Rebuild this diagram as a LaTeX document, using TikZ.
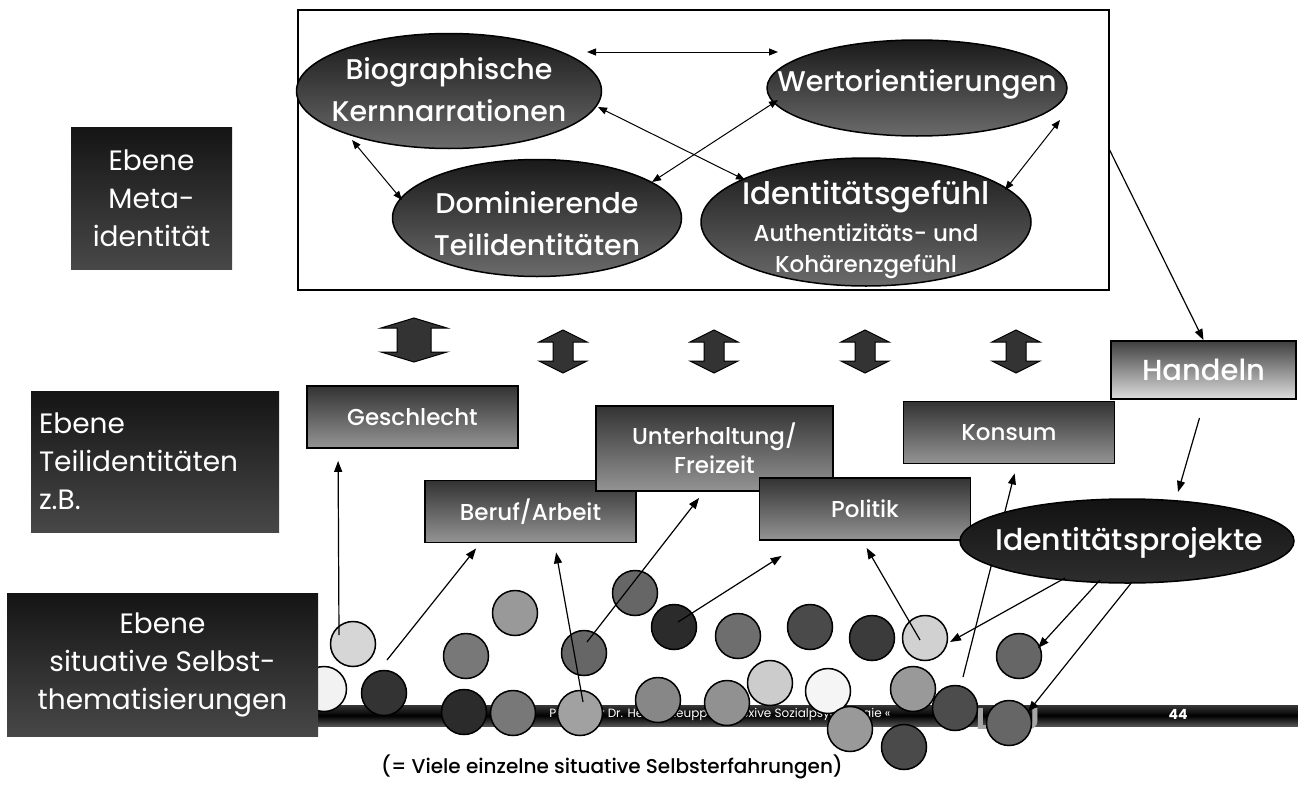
\documentclass[tikz,border=0pt]{standalone}
\usepackage{fontspec}
\setmainfont{Poppins}[UprightFont={* Medium}, BoldFont={* Bold}]
\newfontfamily\leicht{Poppins}
\usetikzlibrary{shapes.geometric, arrows.meta, positioning}

\newcommand{\klein}{\fontsize{23}{27}\selectfont}

\begin{document}
\begin{tikzpicture}[x=1pt, y=-1pt,
    ebene/.style={rectangle, top color=black!92, bottom color=black!72, text=white, align=center, inner sep=0pt, font=\leicht\fontsize{28}{38}\selectfont},
    kern/.style={ellipse, draw, line width=1.5pt, top color=black!90, bottom color=black!58, inner sep=0pt},
    kerntext/.style={text=white, align=center, font=\fontsize{28.5}{42}\selectfont},
    teil/.style={rectangle, draw, line width=1.8pt, top color=black!80, bottom color=black!42, text=white, align=center, minimum width=211pt, minimum height=62pt, inner sep=0pt, font=\fontsize{23}{29}\selectfont},
    kreis/.style={circle, draw, line width=1.5pt, minimum size=45pt, inner sep=0pt},
    pfeil/.style={-{Triangle[length=11pt,width=8pt]}, line width=1.2pt},
    dpfeil/.style={{Triangle[length=9pt,width=7pt]}-{Triangle[length=9pt,width=7pt]}, line width=1pt},
    block/.style={draw, line width=1pt, fill=black!80}
]
\useasboundingbox (0,0) rectangle (1298,787);

% Footer
\node[rectangle, top color=black!78, bottom color=black!68, middle color=black!100, minimum width=980pt, minimum height=21pt, inner sep=0pt, anchor=west] (fuss) at (318,715.5) {};
\node[anchor=east, text=white, font=\leicht\fontsize{12}{14}\selectfont] (autor) at (894,715) {Professor Dr. Heiner Keupp » Reflexive Sozialpsychologie «};
\node[text=black!35, font=\fontsize{30}{30}\selectfont\bfseries] (logo) at (1008,719) {LMU};
\node[text=white, font=\fontsize{14}{16}\selectfont\bfseries] (seite) at (1178,714) {44};

% Metaidentitaet
\node[draw, line width=1.6pt, minimum width=811pt, minimum height=280pt, inner sep=0pt, anchor=north west] (metabox) at (297,9) {};
\node[kern, minimum width=305pt, minimum height=115pt] (bio) at (449,91) {};
\node[kerntext] at (449,90) {Biographische\\Kernnarrationen};
\node[kern, minimum width=300pt, minimum height=96pt] (wert) at (917,88) {};
\node[kerntext] at (917,84) {Wertorientierungen};
\node[kern, minimum width=289pt, minimum height=117pt] (dom) at (537,218) {};
\node[kerntext] at (537,224) {Dominierende\\Teilidentitäten};
\node[kern, minimum width=330pt, minimum height=128pt] (ident) at (866,222) {};
\node[kerntext, font=\fontsize{31}{37}\selectfont] at (866,230) {Identitätsgefühl\\{\klein Authentizitäts- und}\\[-6pt]{\klein Kohärenzgefühl}};

\draw[dpfeil] ([xshift=138pt,yshift=39pt]bio.center) -- ([xshift=-139pt,yshift=36pt]wert.center);
\draw[dpfeil] ([xshift=149pt,yshift=-16pt]bio.center) -- ([xshift=-121pt,yshift=42pt]ident.center);
\draw[dpfeil] ([xshift=-139pt,yshift=-12pt]wert.center) -- ([xshift=115pt,yshift=36pt]dom.center);
\draw[dpfeil] ([xshift=-97pt,yshift=-49pt]bio.center) -- ([xshift=-135pt,yshift=18pt]dom.center);
\draw[dpfeil] ([xshift=143pt,yshift=-32pt]wert.center) -- ([xshift=139pt,yshift=32pt]ident.center);

% Blockpfeile
\draw[block] (414,318) -- (447,328) -- (431,328) -- (431,352) -- (447,352) -- (414,362) -- (381,352) -- (397,352) -- (397,328) -- (381,328) -- cycle;
\foreach \bx in {563,714,865,1016}
  \draw[block] (\bx,330) -- (\bx+24,342) -- (\bx+10,342) -- (\bx+10,361) -- (\bx+24,361) -- (\bx,373) -- (\bx-24,361) -- (\bx-10,361) -- (\bx-10,342) -- (\bx-24,342) -- cycle;

% Teilidentitaeten
\node[teil] (geschlecht) at (412.5,417) {Geschlecht};
\node[teil] (beruf) at (530.5,511.5) {Beruf/Arbeit};
\node[teil, minimum width=237pt, minimum height=85pt] (freizeit) at (714.5,448.5) {Unterhaltung/\\Freizeit};
\node[teil] (politik) at (865,509) {Politik};
\node[teil] (konsum) at (1009,432.5) {Konsum};
\node[teil, minimum width=185pt, minimum height=58pt, top color=black!75, bottom color=black!13, font=\fontsize{29}{32}\selectfont] (handeln) at (1203.5,370) {Handeln};

% Selbstthematisierungen
\foreach \n/\cx/\cy/\g in {1/353/644/16, 2/324/689/5, 3/384/693/80, 4/466/656/53, 5/515/613/40,
    6/464/712/83, 7/513/713/53, 8/580/713/37, 9/584/653/60, 10/635/593/60, 11/674/627/83,
    12/658/700/47, 13/738/636/57, 14/810/627/71, 15/872/638/77, 16/925/638/18, 17/1019/656/60,
    18/770/683/20, 19/828/691/4, 20/727/703/43, 21/850/729/40, 22/904/747/71, 23/913/689/40,
    24/955/708/70, 25/1009/723/60}
  \node[kreis, fill=black!\g] (k\n) at (\cx,\cy) {};

\draw[pfeil] ([xshift=-14pt,yshift=9pt]k1.center) -- ([xshift=32pt,yshift=-12pt]geschlecht.south west);
\draw[pfeil] ([xshift=3pt,yshift=33pt]k3.center) -- ([xshift=52pt,yshift=-5pt]beruf.south west);
\draw[pfeil] ([xshift=3pt,yshift=11pt]k8.center) -- ([xshift=132pt,yshift=-9pt]beruf.south west);
\draw[pfeil] ([xshift=3pt,yshift=11pt]k9.center) -- ([xshift=104pt,yshift=-6pt]freizeit.south west);
\draw[pfeil] ([xshift=4pt,yshift=5pt]k11.center) -- ([xshift=23pt,yshift=-15pt]politik.south west);
\draw[pfeil] ([xshift=-5pt,yshift=-2pt]k16.center) -- ([xshift=108pt,yshift=-7pt]politik.south west);
\draw[pfeil] ([xshift=8pt,yshift=31pt]k24.center) -- ([xshift=112pt,yshift=-9pt]konsum.south west);

% Handeln und Identitaetsprojekte
\draw[pfeil] ([yshift=-141pt]metabox.north east) -- (handeln.north);
\node[ellipse, draw, line width=1.5pt, top color=black!93, bottom color=black!82, minimum width=334pt, minimum height=84pt, inner sep=0pt] (projekte) at (1127,541) {};
\node[text=white, font=\fontsize{30}{34}\selectfont] at (1129,543) {Identitätsprojekte};
\draw[pfeil] ([xshift=-4pt,yshift=-18pt]handeln.south) -- ([xshift=51pt,yshift=49pt]projekte.center);
\draw[pfeil] ([xshift=-62pt,yshift=-37pt]projekte.center) -- ([xshift=25pt,yshift=-4pt]k16.center);
\draw[pfeil] ([xshift=-27pt,yshift=-39pt]projekte.center) -- ([xshift=19pt,yshift=8pt]k17.center);
\draw[pfeil] ([xshift=5pt,yshift=-41pt]projekte.center) -- ([xshift=19pt,yshift=11pt]k25.center);

% Ebenen
\node[ebene, minimum width=161pt, minimum height=142pt] (metaebene) at (151.5,198) {Ebene\\Meta-\\identität};
\node[ebene, minimum width=248pt, minimum height=141pt, align=left, text width=232pt] (teilebene) at (155,461.5) {Ebene\\Teilidentitäten\\z.B.};
\node[ebene, minimum width=311pt, minimum height=143pt] (selbstebene) at (162.5,664.5) {Ebene\\situative Selbst-\\thematisierungen};

\node[font=\fontsize{20}{24}\selectfont] (fazit) at (612,767) {(= Viele einzelne situative Selbsterfahrungen)};

\end{tikzpicture}
\end{document}
